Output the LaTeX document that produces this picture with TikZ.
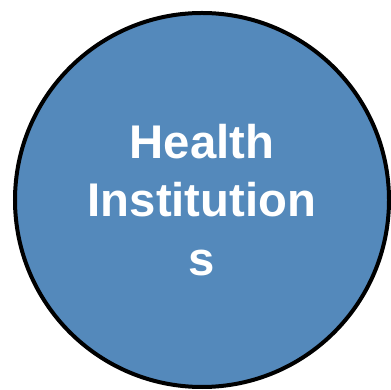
\documentclass[tikz,border=0pt]{standalone}
\usepackage{fontspec}
\setmainfont{Liberation Sans}
\definecolor{instblue}{RGB}{84,137,187}
\begin{document}
\begin{tikzpicture}
\tikzstyle{institution} = [circle, draw=black, line width=0.08cm, fill=instblue, minimum size=7.48cm, inner sep=0pt, text=white, align=center, font=\bfseries\fontsize{26.9}{33.2}\selectfont]
\useasboundingbox (0,0) rectangle (7.80,7.80);
\node[institution] at (4.04, 3.80) (health_inst) {Health\\Institution\\s};
\end{tikzpicture}
\end{document}
